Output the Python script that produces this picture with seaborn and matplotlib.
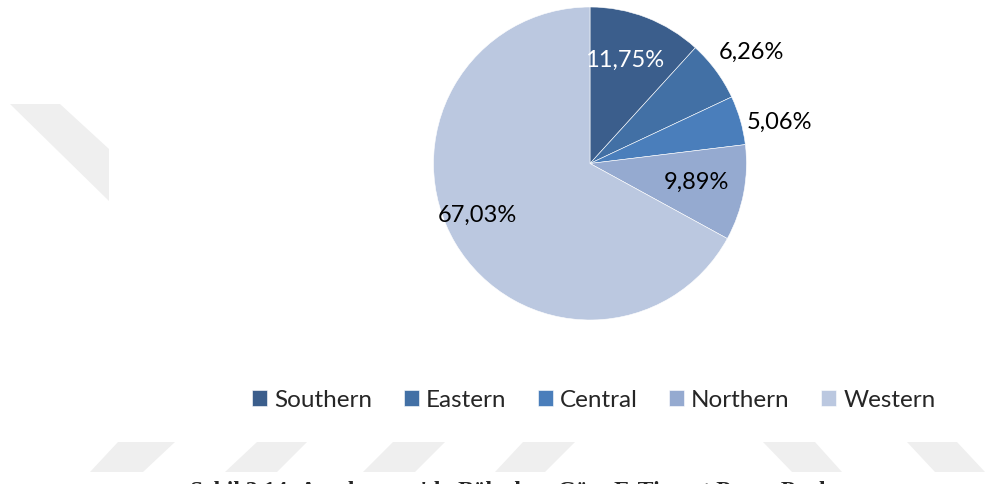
import matplotlib
matplotlib.use("Agg")
import numpy as np
import matplotlib.pyplot as plt
from matplotlib.patches import Polygon
import seaborn as sns

# --- Data ---
regions = ["Southern", "Eastern", "Central", "Northern", "Western"]
shares = [11.75, 6.26, 5.06, 9.89, 67.03]
share_labels = ["11,75%", "6,26%", "5,06%", "9,89%", "67,03%"]
colors = ["#3b5e8c", "#4270a5", "#4a7ebb", "#95aad0", "#bbc8e0"]
label_colors = ["white", "black", "black", "black", "black"]
label_dist = [0.70, 1.26, 1.24, 0.69, 0.79]
label_turn = [2.5, -1.6, -3.5, 1.1, -6.6]   # small angle nudges, degrees
caption = "Şekil 3.14: Azerbaycan'da Bölgelere Göre E-Ticaret Pazar Payları"

sns.set_style("white")
plt.rcParams['font.family'] = ['Lato', 'DejaVu Sans']

W, H = 985, 485
fig = plt.figure(figsize=(W / 100, H / 100), dpi=100)

# faint watermark shapes in the background (pixel coords)
marks = [
    [(10, 105), (60, 105), (109, 150), (109, 202)],
    [(118, 443), (175, 443), (143, 473), (90, 473)],
    [(257, 443), (307, 443), (277, 473), (225, 473)],
    [(393, 443), (445, 443), (415, 473), (363, 473)],
    [(523, 443), (575, 443), (545, 473), (495, 473)],
    [(763, 443), (815, 443), (842, 473), (792, 473)],
    [(907, 443), (957, 443), (985, 473), (935, 473)],
]
for pts in marks:
    fig.patches.append(Polygon([(x / W, 1 - y / H) for x, y in pts], closed=True,
                               transform=fig.transFigure, facecolor="#efefef",
                               edgecolor="none", zorder=0))

# pie axes: center (590,164.5), radius 156.5 px
cx, cy, r = 590, 164.5, 156.5
ax = fig.add_axes([(cx - r) / W, 1 - (cy + r) / H, 2 * r / W, 2 * r / H])
wedges, _ = ax.pie(shares, colors=colors, startangle=90, counterclock=False,
                   wedgeprops=dict(edgecolor="white", linewidth=0.4))
ax.set_xlim(-1, 1)
ax.set_ylim(-1, 1)
ax.set_aspect("equal")
ax.axis("off")

for w, lab, col, d, t in zip(wedges, share_labels, label_colors, label_dist, label_turn):
    ang = np.deg2rad((w.theta1 + w.theta2) / 2 + t)
    ax.text(d * np.cos(ang), d * np.sin(ang), lab, ha="center", va="center",
            fontsize=17, color=col)

fig.legend(wedges, regions, loc="center", bbox_to_anchor=(594 / W, 1 - 401 / H),
           ncol=5, frameon=False, fontsize=17.5, handlelength=0.6, handleheight=0.6,
           handletextpad=0.3, columnspacing=1.3)

fig.text(190 / W, 1 - 497 / H, caption, ha="left", va="baseline",
         fontsize=17, fontweight="bold", family=["Liberation Serif", "DejaVu Serif"])

fig.savefig("out.png", dpi=100, facecolor="white")
